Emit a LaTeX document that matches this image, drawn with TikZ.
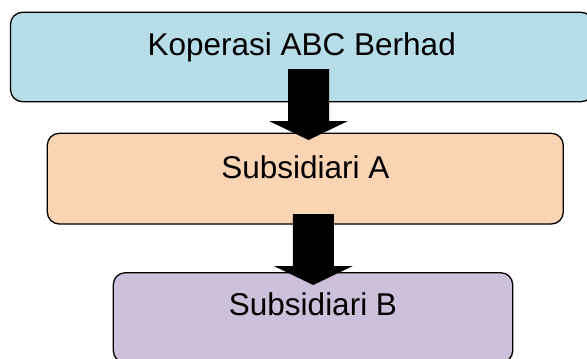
\documentclass[tikz,border=0pt]{standalone}
\usepackage{fontspec}
\setmainfont{Liberation Sans}
\definecolor{boxblue}{HTML}{B7DDE8}
\definecolor{boxorange}{HTML}{FBD4B4}
\definecolor{boxpurple}{HTML}{CCC0DA}
\newcommand\drawbigarrow[2]{%
  \fill[black] (#1) ++(-20.5,0) -- ++(41,0) -- ++(0,-52) -- ++(19,0) -- (#2) -- ++(-39.5,19) -- ++(19,0) -- cycle;}
\begin{document}
\begin{tikzpicture}[x=1pt,y=1pt,
  orgbox/.style={draw=black, line width=1.3pt, rounded corners=12pt, rectangle, inner sep=0pt},
  lbl/.style={font=\fontsize{31.5}{36}\selectfont, text=black, inner sep=0pt, anchor=base}]
\useasboundingbox (0,0) rectangle (587,-359);
\clip (0,0) rectangle (587,-359);
\fill[white] (0,0) rectangle (587,-359);
% boxes
\node[orgbox, fill=boxblue, minimum width=582.5pt, minimum height=89.4pt] (b1) at (301.75,-57) {};
\node[orgbox, fill=boxorange, minimum width=516pt, minimum height=90.7pt] (b2) at (305.3,-178.65) {};
\node[orgbox, fill=boxpurple, minimum width=399.4pt, minimum height=90pt] (b3) at (313,-317.7) {};
% labels
\node[lbl] (t1) at ([yshift=-43.7pt]b1.north) {Koperasi ABC Berhad};
\node[lbl] (t2) at ([yshift=-45.7pt]b2.north) {Subsidiari A};
\node[lbl] (t3) at ([yshift=-43.3pt]b3.north) {Subsidiari B};
% arrows
\coordinate (s1) at (308.5,-69);
\coordinate (e1) at (308.5,-140);
\coordinate (s2) at (313.3,-214);
\coordinate (e2) at (313.3,-285);
\drawbigarrow{s1}{e1}
\drawbigarrow{s2}{e2}
\end{tikzpicture}
\end{document}
